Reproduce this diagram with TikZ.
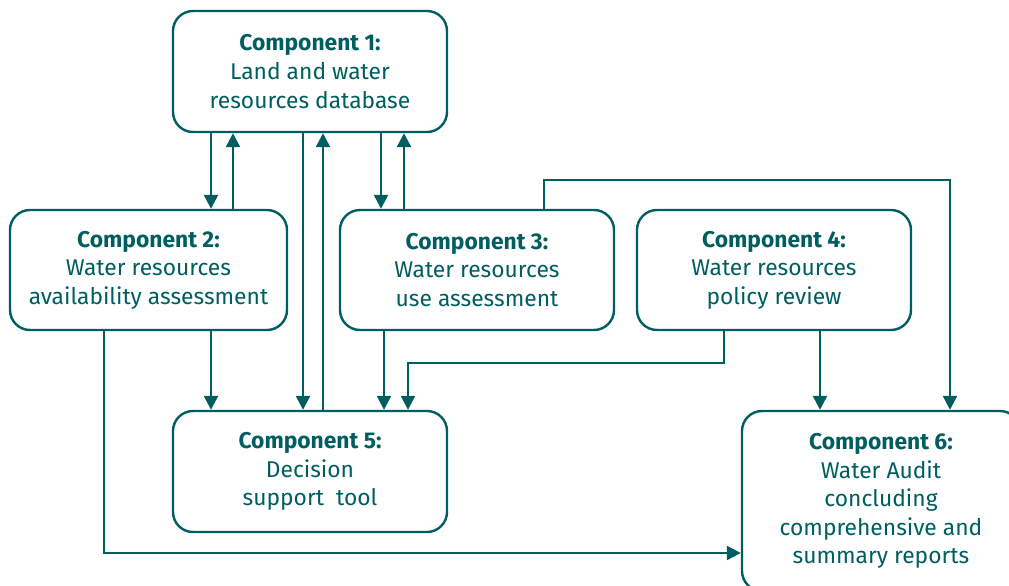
\documentclass[tikz,border=0pt]{standalone}
\usepackage{fontspec}
\setmainfont{Fira Sans}
\usetikzlibrary{arrows.meta}
\definecolor{auditteal}{RGB}{0,94,96}

\begin{document}
\begin{tikzpicture}[x=1pt,y=-1pt,
    box/.style={draw=auditteal, line width=2.4pt, rounded corners=20pt,
      text=auditteal, align=center, inner sep=0pt,
      font=\fontsize{22.8}{28.6}\selectfont},
    flow/.style={draw=auditteal, line width=2.4pt,
      -{Triangle[width=14pt,length=14pt]}}]
    \useasboundingbox (0,0) rectangle (1009,586);
    \clip (0,0) rectangle (1009,586);

    % Components
    \node[box, minimum width=274pt, minimum height=121pt] (c1) at (310,71.5)
      {\textbf{Component 1:}\\Land and water\\resources database};
    \node[box, minimum width=277pt, minimum height=120pt] (c2) at (148.5,270)
      {\textbf{Component 2:}\\Water resources\\availability assessment};
    \node[box, minimum width=274pt, minimum height=120pt] (c3) at (477,270)
      {\textbf{Component 3:}\\Water resources\\use assessment};
    \node[box, minimum width=274pt, minimum height=120pt] (c4) at (774,270)
      {\textbf{Component 4:}\\Water resources\\policy review};
    \node[box, minimum width=274pt, minimum height=121pt] (c5) at (310,471.5)
      {\textbf{Component 5:}\\Decision\\support\ \ tool};
    \node[box, minimum width=278pt, minimum height=180pt] (c6) at (881,501)
      {\textbf{Component 6:}\\Water Audit\\concluding\\comprehensive and\\summary reports};

    % Database links
    \draw[flow] ([xshift=-99pt]c1.south) -- ([xshift=-99pt]c1.south |- c2.north);
    \draw[flow] ([xshift=-77pt]c1.south |- c2.north) -- ([xshift=-77pt]c1.south);
    \draw[flow] ([xshift=-7pt]c1.south) -- ([xshift=-7pt]c1.south |- c5.north);
    \draw[flow] ([xshift=13pt]c1.south |- c5.north) -- ([xshift=13pt]c1.south);
    \draw[flow] ([xshift=71pt]c1.south) -- ([xshift=71pt]c1.south |- c3.north);
    \draw[flow] ([xshift=94pt]c1.south |- c3.north) -- ([xshift=94pt]c1.south);

    % Links to the decision support tool
    \draw[flow] ([xshift=62.5pt]c2.south) -- ([xshift=62.5pt]c2.south |- c5.north);
    \draw[flow] ([xshift=-93pt]c3.south) -- ([xshift=-93pt]c3.south |- c5.north);
    \draw[flow] ([xshift=-50pt]c4.south) -- ++(0,32) -| ([xshift=98pt]c5.north);

    % Links to the water audit
    \draw[flow] ([xshift=67pt]c3.north) -- ++(0,-29) -| ([xshift=69pt]c6.north);
    \draw[flow] ([xshift=46pt]c4.south) -- ([xshift=46pt]c4.south |- c6.north);
    \draw[flow] ([xshift=-44.5pt]c2.south) |- ([yshift=-52pt]c6.west);
\end{tikzpicture}
\end{document}
